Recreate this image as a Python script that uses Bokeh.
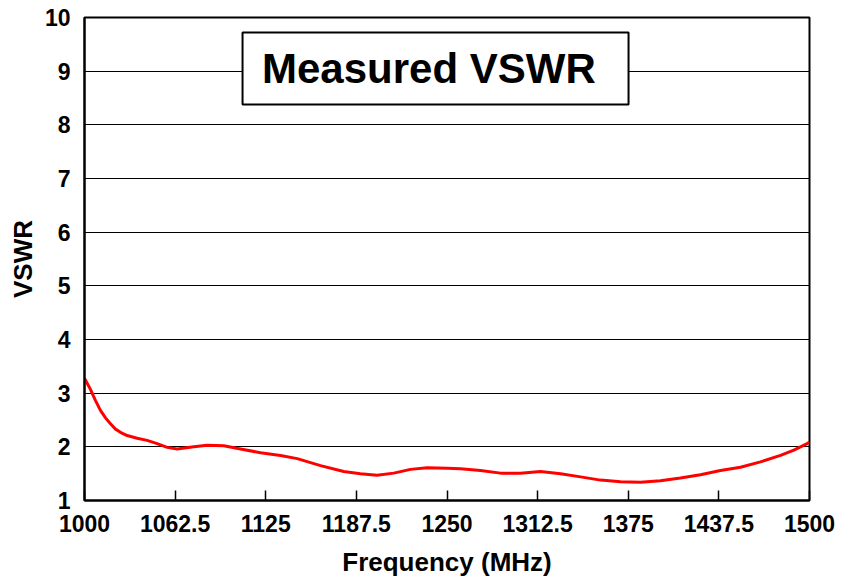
from bokeh.plotting import figure
from bokeh.models import Range1d, FixedTicker, BoxAnnotation, Label
from bokeh.embed import file_html
from bokeh.resources import INLINE

# ---- data ----
freq_mhz = [1000, 1004.1, 1007.6, 1011.0, 1014.5, 1017.9, 1021.4, 1024.8, 1029.4,
            1036.3, 1043.2, 1050.1, 1057.0, 1063.9, 1075.4,
            1084.6, 1096.1, 1107.6, 1121.4, 1135.2, 1146.7, 1162.8, 1178.8, 1190.3,
            1201.8, 1213.3, 1224.8, 1236.3, 1250.1, 1259.3, 1273.1, 1286.9, 1300.7,
            1314.5, 1328.3, 1342.1, 1355.9, 1369.7, 1383.4, 1397.2, 1411.0, 1424.8,
            1438.6, 1452.4, 1466.2, 1480.0, 1489.2, 1498.4, 1500]
vswr = [3.28, 3.07, 2.86, 2.68, 2.54, 2.43, 2.33, 2.27, 2.21,
        2.16, 2.12, 2.06, 1.99, 1.96, 2.00,
        2.03, 2.02, 1.96, 1.89, 1.84, 1.78, 1.65, 1.54, 1.50,
        1.47, 1.51, 1.58, 1.61, 1.60, 1.59, 1.56, 1.51, 1.51,
        1.54, 1.50, 1.44, 1.38, 1.35, 1.34, 1.37, 1.42, 1.48,
        1.56, 1.62, 1.72, 1.84, 1.94, 2.06, 2.09]

x_ticks = [1000, 1062.5, 1125, 1187.5, 1250, 1312.5, 1375, 1437.5, 1500]
x_tick_labels = ["1000", "1062.5", "1125", "1187.5", "1250", "1312.5", "1375", "1437.5", "1500"]
y_ticks = [1, 2, 3, 4, 5, 6, 7, 8, 9, 10]

title_text = "Measured VSWR"
x_label = "Frequency (MHz)"
y_label = "VSWR"

FONT = "Liberation Sans"

p = figure(width=841, height=579,
           x_range=Range1d(1000, 1500), y_range=Range1d(1, 10),
           output_backend="svg", toolbar_location=None,
           min_border_left=84, min_border_top=17, min_border_right=32, min_border_bottom=78,
           background_fill_color="white", border_fill_color="white")

p.outline_line_color = "black"
p.outline_line_width = 2

# grid
p.xgrid.grid_line_color = None
p.ygrid.grid_line_color = "black"
p.ygrid.grid_line_width = 1
p.ygrid.ticker = FixedTicker(ticks=y_ticks)

# x axis
p.xaxis.ticker = FixedTicker(ticks=x_ticks)
p.xaxis.major_label_overrides = {t: s for t, s in zip(x_ticks, x_tick_labels)}
p.xaxis.major_tick_in = 10
p.xaxis.major_tick_out = 0
p.xaxis.major_tick_line_width = 1.5
p.xaxis.minor_tick_line_color = None
p.xaxis.axis_line_width = 2
p.xaxis.major_label_standoff = 14
p.xaxis.axis_label = x_label
p.xaxis.axis_label_standoff = 12

# y axis
p.yaxis.ticker = FixedTicker(ticks=y_ticks)
p.yaxis.major_tick_in = 0
p.yaxis.major_tick_out = 0
p.yaxis.minor_tick_line_color = None
p.yaxis.axis_line_width = 2
p.yaxis.major_label_standoff = 14
p.yaxis.axis_label = y_label
p.yaxis.axis_label_standoff = 4

for ax in (p.xaxis, p.yaxis):
    ax.major_label_text_font = FONT
    ax.major_label_text_font_style = "bold"
    ax.major_label_text_font_size = "23px"
    ax.major_label_text_color = "black"
    ax.axis_label_text_font = FONT
    ax.axis_label_text_font_style = "bold"
    ax.axis_label_text_font_size = "26px"
    ax.axis_label_text_color = "black"

# data line
p.line(freq_mhz, vswr, line_color="#ff0000", line_width=3, line_join="round")

# title box inside plot (layout positions in data units)
box = BoxAnnotation(left=1109.0, right=1375.2, bottom=8.38, top=9.72,
                    fill_color="white", fill_alpha=1.0,
                    line_color="black", line_alpha=1.0, line_width=2, level="overlay")
p.add_layout(box)
p.add_layout(Label(x=1237.5, y=9.05, text=title_text, text_align="center",
                   text_baseline="middle", text_font=FONT, text_font_style="bold",
                   text_font_size="42px", text_color="black", level="overlay"))

open("out.html", "w").write(file_html(p, INLINE))
